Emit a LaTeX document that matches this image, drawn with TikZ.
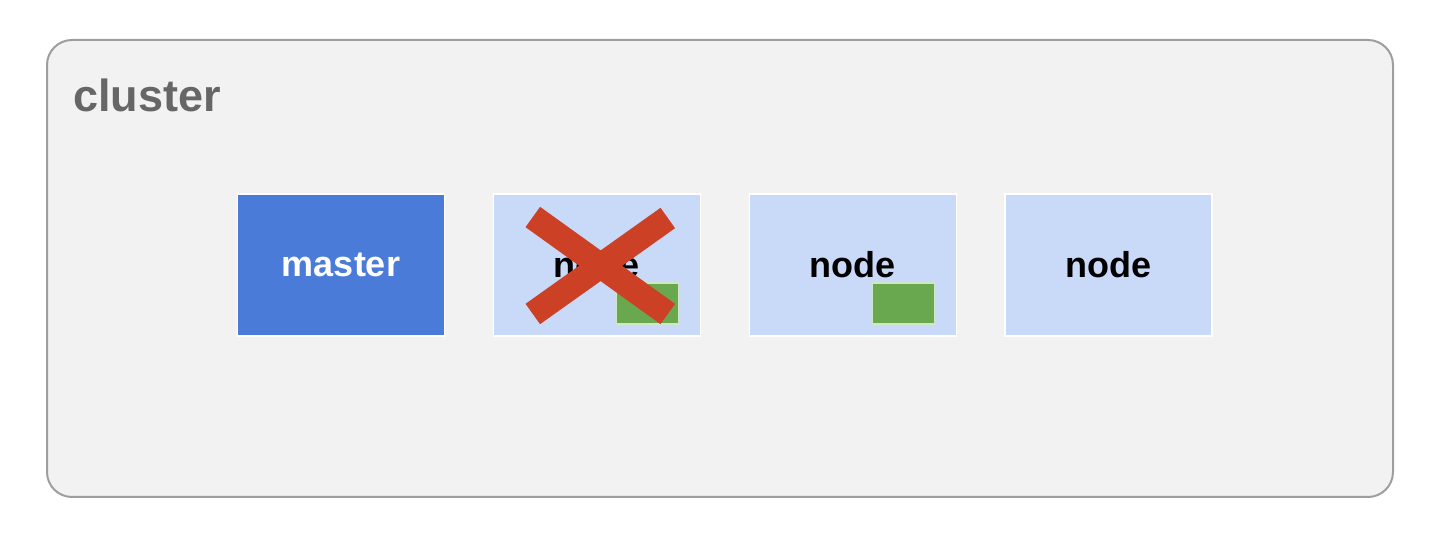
\documentclass[tikz,border=0pt]{standalone}
\usepackage{fontspec}
\setmainfont{Liberation Sans}
\usetikzlibrary{positioning}
\definecolor{clusterfill}{HTML}{F2F2F2}
\definecolor{clusterline}{HTML}{9E9E9E}
\definecolor{titlegray}{HTML}{666666}
\definecolor{masterblue}{HTML}{4A7BD8}
\definecolor{nodeblue}{HTML}{C9DAF8}
\definecolor{podgreen}{HTML}{6AA84F}
\definecolor{crossred}{HTML}{CC4125}
\begin{document}
\begin{tikzpicture}[x=0.5pt, y=-0.5pt,
  box/.style={rectangle, minimum width=103.5pt, minimum height=71pt, inner sep=0pt,
    draw=white, line width=0.6pt, font=\fontsize{18}{20}\selectfont\bfseries},
  masterbox/.style={box, fill=masterblue, text=white},
  workerbox/.style={box, fill=nodeblue, text=black},
  pod/.style={rectangle, minimum width=31pt, minimum height=20.5pt, inner sep=0pt,
    fill=podgreen, draw=podgreen!30!white, line width=0.6pt},
  cross/.style={crossred, line width=12.5pt}]
\useasboundingbox (0,0) rectangle (1430,544);
\draw[fill=clusterfill, draw=clusterline, line width=1pt, rounded corners=12.5pt] (47,40) rectangle (1393,497);
\node[anchor=base west, inner sep=0pt, text=titlegray, font=\fontsize{22.5}{24}\selectfont\bfseries] (title) at (73,112) {cluster};

\node[masterbox] (master) at (341,265) {master};
\node[workerbox, right=23.8pt of master] (node1) {node};
\node[workerbox, right=23.8pt of node1] (node2) {node};
\node[workerbox, right=23.8pt of node2] (node3) {node};

\node[pod, anchor=south east] (pod1) at ([shift={(-22,-12)}]node1.south east) {};
\node[pod, anchor=south east] (pod2) at ([shift={(-22,-12)}]node2.south east) {};

% node1 is down
\coordinate (xa) at ([shift={(-64,-48)}]node1.center);
\coordinate (xb) at ([shift={(71,49)}]node1.center);
\coordinate (xc) at ([shift={(-64,49)}]node1.center);
\coordinate (xd) at ([shift={(71,-47)}]node1.center);
\draw[cross] (xa) -- (xb);
\draw[cross] (xc) -- (xd);
\end{tikzpicture}
\end{document}
